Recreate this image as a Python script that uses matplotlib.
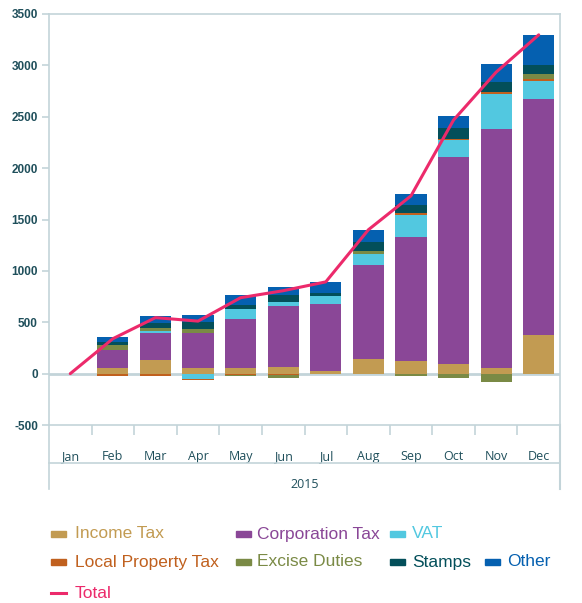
import numpy as np
import matplotlib
matplotlib.use("Agg")
import matplotlib.pyplot as plt
from matplotlib.patches import Rectangle
from matplotlib.lines import Line2D

plt.rcParams["axes.unicode_minus"] = False

months = ["Jan", "Feb", "Mar", "Apr", "May", "Jun", "Jul", "Aug", "Sep", "Oct", "Nov", "Dec"]
year_label = "2015"

income = [0, 55, 135, 55, 55, 60, 22, 146, 126, 97, 58, 380]
corporation = [0, 175, 262, 340, 475, 600, 658, 914, 1205, 2012, 2323, 2295]
vat = [0, 0, 20, -50, 97, 40, 78, 107, 214, 165, 340, 175]
local_property = [0, -20, -20, -10, -15, -10, 0, 0, 20, 10, 22, 20]
excise = [0, 50, 30, 40, -10, -30, 0, 29, -20, -40, -78, 48]
stamps = [0, 30, 50, 68, 42, 62, 22, 87, 78, 107, 94, 87]
other = [0, 50, 68, 68, 95, 85, 113, 117, 107, 117, 175, 292]

series = [
    ("Income Tax", income, "#C29B52"),
    ("Corporation Tax", corporation, "#8A4797"),
    ("VAT", vat, "#52C8E0"),
    ("Local Property Tax", local_property, "#C0601E"),
    ("Excise Duties", excise, "#7A8A45"),
    ("Stamps", stamps, "#034F5A"),
    ("Other", other, "#0560B0"),
]
total_color = "#EC2A6B"
axis_col = "#C3D4D9"
label_col = "#1F4F5B"

W, H = 582, 603
fig = plt.figure(figsize=(W / 100, H / 100), dpi=100)

# plot area in pixels
left, right, top, bottom = 49, 560, 14, 425
ax = fig.add_axes([left / W, 1 - bottom / H, (right - left) / W, (bottom - top) / H])

x = np.arange(len(months))
pos_base = np.zeros(len(months))
neg_base = np.zeros(len(months))
for name, vals, col in series:
    v = np.array(vals, dtype=float)
    b = np.where(v >= 0, pos_base, neg_base)
    ax.bar(x, v, width=0.73, bottom=b, color=col, linewidth=0, zorder=3)
    pos_base += np.where(v >= 0, v, 0)
    neg_base += np.where(v < 0, v, 0)

total = pos_base + neg_base
ax.plot(x, total, color=total_color, lw=2.2, zorder=5, solid_capstyle="round")

ax.set_xlim(-0.5, 11.5)
ax.set_ylim(-500, 3500)
ax.axhline(0, color=axis_col, lw=2, zorder=2)

for s in ax.spines.values():
    s.set_color(axis_col)
    s.set_linewidth(1.2)

ax.set_yticks(range(-500, 3501, 500))
ax.tick_params(axis="y", colors=axis_col, length=5, width=1.2, pad=3)
for t in ax.get_yticklabels():
    t.set_color(label_col)
    t.set_fontfamily("Liberation Sans")
    t.set_fontsize(8.5)
    t.set_fontweight("bold")

ax.set_xticks(x)
ax.set_xticklabels(months)
ax.set_xticks(np.arange(0.5, 11.5, 1), minor=True)
ax.tick_params(axis="x", which="major", length=0, pad=18)
ax.tick_params(axis="x", which="minor", length=7, width=1.2, color=axis_col, direction="out")
for t in ax.get_xticklabels():
    t.set_color(label_col)
    t.set_fontfamily("Open Sans")
    t.set_fontsize(9)

# category band below the axis
ah = bottom - top
tr = ax.get_xaxis_transform()
y_line = -(463 - bottom) / ah
y_end = -(489 - bottom) / ah
ax.plot([-0.5, 11.5], [y_line, y_line], transform=tr, color=axis_col, lw=1.2, clip_on=False)
ax.plot([-0.5, -0.5], [0, y_end], transform=tr, color=axis_col, lw=1.2, clip_on=False)
ax.plot([11.5, 11.5], [0, y_end], transform=tr, color=axis_col, lw=1.5, clip_on=False)
ax.text(0.5, -(485 - bottom) / ah, year_label, transform=ax.transAxes, ha="center", va="center",
        color=label_col, fontfamily="Open Sans", fontsize=9)

# legend drawn by hand to follow the original layout
legend_items = [
    ("Income Tax", series[0][2], 51, 75, 534),
    ("Corporation Tax", series[1][2], 236, 257, 534),
    ("VAT", series[2][2], 390, 412, 534),
    ("Local Property Tax", series[3][2], 51, 75, 562),
    ("Excise Duties", series[4][2], 236, 257, 562),
    ("Stamps", series[5][2], 390, 412, 562),
    ("Other", series[6][2], 485, 507, 562),
]
for label, col, mx, tx, yc in legend_items:
    fig.patches.append(Rectangle((mx / W, 1 - (yc + 3) / H), 15 / W, 6 / H,
                                 transform=fig.transFigure, color=col))
    fig.text(tx / W, 1 - yc / H, label, color=col, fontfamily="Liberation Sans",
             fontsize=12.5, va="center", ha="left")

fig.lines.append(Line2D([51 / W, 66 / W], [1 - 593 / H, 1 - 593 / H], transform=fig.transFigure,
                        color=total_color, lw=2.2))
fig.text(75 / W, 1 - 593 / H, "Total", color=total_color, fontfamily="Liberation Sans",
         fontsize=12.5, va="center", ha="left")

fig.savefig("out.png", dpi=100)
